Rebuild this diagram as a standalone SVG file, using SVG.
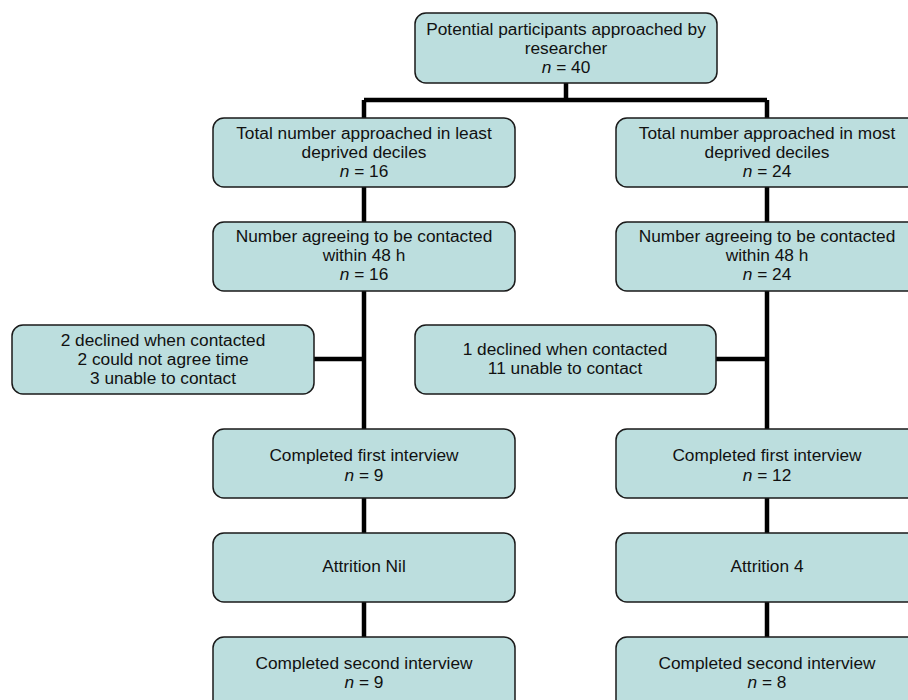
<svg xmlns="http://www.w3.org/2000/svg" width="908" height="700" viewBox="0 0 908 700">
<style>
.box{fill:#bcdede;stroke:#1a1a1a;stroke-width:1.5}
.t{font-family:"Liberation Sans",Arial,sans-serif;font-size:17.3px;fill:#111;text-anchor:middle}
.c{stroke:#000;stroke-width:4.5;fill:none}
</style>
<rect width="908" height="700" fill="#fff"/>
<g id="connectors">
<path class="c" d="M566 83V100M364 100H767M364 100V118M767 100V118"/>
<path class="c" d="M364 187V222M767 187V222"/>
<path class="c" d="M364 291V429M314 359H364M767 291V429M716 359H767"/>
<path class="c" d="M364 498V533M767 498V533M364 602V637M767 602V637"/>
</g>
<g id="n_top"><rect class="box" x="415" y="13" width="302" height="70" rx="11"/>
<text class="t" x="566"><tspan x="566" y="35">Potential participants approached by</tspan><tspan x="566" y="54">researcher</tspan><tspan x="566" y="73"><tspan font-style="italic">n</tspan> = 40</tspan></text></g>
<g id="n_least"><rect class="box" x="213" y="118" width="302" height="69" rx="11"/>
<text class="t"><tspan x="364" y="139">Total number approached in least</tspan><tspan x="364" y="158">deprived deciles</tspan><tspan x="364" y="177"><tspan font-style="italic">n</tspan> = 16</tspan></text></g>
<g id="n_most"><rect class="box" x="616" y="118" width="302" height="69" rx="11"/>
<text class="t"><tspan x="767" y="139">Total number approached in most</tspan><tspan x="767" y="158">deprived deciles</tspan><tspan x="767" y="177"><tspan font-style="italic">n</tspan> = 24</tspan></text></g>
<g id="n_agree_l"><rect class="box" x="213" y="222" width="302" height="69" rx="11"/>
<text class="t"><tspan x="364" y="242">Number agreeing to be contacted</tspan><tspan x="364" y="261">within 48 h</tspan><tspan x="364" y="280"><tspan font-style="italic">n</tspan> = 16</tspan></text></g>
<g id="n_agree_r"><rect class="box" x="616" y="222" width="302" height="69" rx="11"/>
<text class="t"><tspan x="767" y="242">Number agreeing to be contacted</tspan><tspan x="767" y="261">within 48 h</tspan><tspan x="767" y="280"><tspan font-style="italic">n</tspan> = 24</tspan></text></g>
<g id="n_excl_l"><rect class="box" x="12" y="325" width="302" height="69" rx="11"/>
<text class="t"><tspan x="163" y="346">2 declined when contacted</tspan><tspan x="163" y="365">2 could not agree time</tspan><tspan x="163" y="384">3 unable to contact</tspan></text></g>
<g id="n_excl_r"><rect class="box" x="415" y="325" width="301" height="69" rx="11"/>
<text class="t"><tspan x="565" y="355">1 declined when contacted</tspan><tspan x="565" y="374">11 unable to contact</tspan></text></g>
<g id="n_first_l"><rect class="box" x="213" y="429" width="302" height="69" rx="11"/>
<text class="t"><tspan x="364" y="461">Completed first interview</tspan><tspan x="364" y="481"><tspan font-style="italic">n</tspan> = 9</tspan></text></g>
<g id="n_first_r"><rect class="box" x="616" y="429" width="302" height="69" rx="11"/>
<text class="t"><tspan x="767" y="461">Completed first interview</tspan><tspan x="767" y="481"><tspan font-style="italic">n</tspan> = 12</tspan></text></g>
<g id="n_attr_l"><rect class="box" x="213" y="533" width="302" height="69" rx="11"/>
<text class="t" x="364" y="572">Attrition Nil</text></g>
<g id="n_attr_r"><rect class="box" x="616" y="533" width="302" height="69" rx="11"/>
<text class="t" x="767" y="572">Attrition 4</text></g>
<g id="n_second_l"><rect class="box" x="213" y="637" width="302" height="80" rx="11"/>
<text class="t"><tspan x="364" y="669">Completed second interview</tspan><tspan x="364" y="688"><tspan font-style="italic">n</tspan> = 9</tspan></text></g>
<g id="n_second_r"><rect class="box" x="616" y="637" width="302" height="80" rx="11"/>
<text class="t"><tspan x="767" y="669">Completed second interview</tspan><tspan x="767" y="688"><tspan font-style="italic">n</tspan> = 8</tspan></text></g>
</svg>
